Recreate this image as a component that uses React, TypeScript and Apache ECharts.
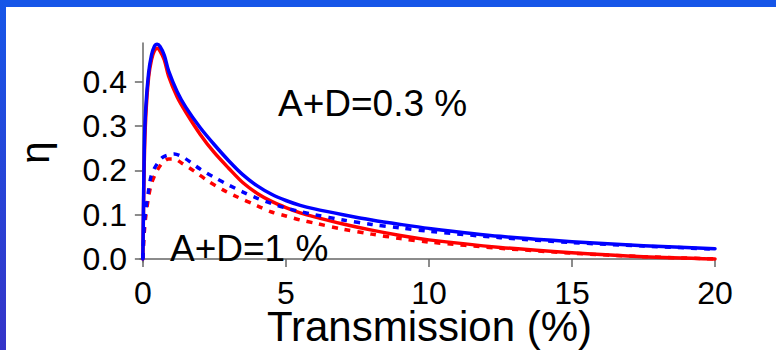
import React, { useEffect, useRef } from "react";
import * as echarts from "echarts";

// Transmission (%) sample positions and efficiency η for each loss level.
const blueSolidX = [0, 0.05, 0.1, 0.2, 0.3, 0.4, 0.5, 0.6, 0.75, 0.9, 1.2, 1.5, 2.0, 2.5, 3.0, 3.5, 4.0, 4.5, 5.0, 5.5, 6, 7, 8, 9, 10, 12.5, 15, 17.5, 20];
const blueSolidY = [0, 0.25, 0.34, 0.42, 0.46, 0.48, 0.485, 0.48, 0.46, 0.425, 0.378, 0.343, 0.297, 0.258, 0.222, 0.19, 0.165, 0.146, 0.132, 0.121, 0.113, 0.1, 0.088, 0.078, 0.069, 0.051, 0.039, 0.03, 0.023];

const redSolidX = [0, 0.05, 0.1, 0.2, 0.3, 0.4, 0.5, 0.6, 0.75, 0.9, 1.2, 1.5, 2.0, 2.5, 3.0, 3.5, 4.0, 4.5, 5.0, 5.5, 6, 7, 8, 9, 10, 12.5, 15, 17.5, 20];
const redSolidY = [0, 0.22, 0.32, 0.41, 0.45, 0.47, 0.476, 0.47, 0.45, 0.413, 0.366, 0.332, 0.282, 0.24, 0.205, 0.172, 0.148, 0.13, 0.116, 0.104, 0.095, 0.079, 0.065, 0.053, 0.043, 0.026, 0.014, 0.005, 0.0];

const blueDashX = [0, 0.05, 0.1, 0.2, 0.3, 0.5, 0.7, 0.9, 1.1, 1.4, 1.7, 2.0, 2.5, 3.0, 3.5, 4.0, 4.5, 5.0, 5.5, 6, 7, 8, 9, 10, 12.5, 15, 17.5, 20];
const blueDashY = [0, 0.08, 0.11, 0.155, 0.19, 0.215, 0.23, 0.235, 0.237, 0.23, 0.217, 0.203, 0.184, 0.167, 0.151, 0.137, 0.125, 0.115, 0.107, 0.1, 0.088, 0.078, 0.07, 0.0625, 0.048, 0.037, 0.029, 0.022];

const redDashX = [0, 0.05, 0.1, 0.2, 0.3, 0.5, 0.7, 0.9, 1.1, 1.35, 1.8, 2.3, 2.8, 3.2, 4.0, 4.5, 5.0, 5.5, 6, 7, 8, 9, 10, 12.5, 15, 17.5, 20];
const redDashY = [0, 0.06, 0.095, 0.14, 0.17, 0.2, 0.218, 0.226, 0.226, 0.217, 0.198, 0.175, 0.156, 0.143, 0.12, 0.106, 0.097, 0.088, 0.081, 0.067, 0.056, 0.046, 0.038, 0.024, 0.013, 0.005, 0.0];

const xTicks = [0, 5, 10, 15, 20];
const yTicks = [0, 0.1, 0.2, 0.3, 0.4];

const FONT = "'Liberation Sans', Arial, sans-serif";
const AXIS_GREY = "#666666";

const pairs = (xs: number[], ys: number[]) => xs.map((x, i) => [x, ys[i]]);

export default function App() {
  const ref = useRef<HTMLDivElement>(null);

  useEffect(() => {
    if (!ref.current) return;
    const chart = echarts.init(ref.current, null, { renderer: "svg" });

    const lineSeries = (name: string, data: number[][], color: string, dashed: boolean) => ({
      name,
      type: "line",
      data,
      showSymbol: false,
      smooth: 0.3,
      lineStyle: {
        color,
        width: 3.5,
        type: dashed ? [6, 7] : "solid",
        cap: dashed ? "butt" : "round",
        join: "round",
      },
      z: 3,
    });

    chart.setOption({
      animation: false,
      backgroundColor: "#ffffff",
      grid: { left: 140, right: 61, top: 43, bottom: 88, containLabel: false, outerBoundsMode: "none" },
      xAxis: {
        type: "value",
        min: -0.1,
        max: 20,
        name: "Transmission (%)",
        nameLocation: "middle",
        nameGap: 46,
        nameMoveOverlap: false,
        nameTextStyle: { fontFamily: FONT, fontSize: 42, lineHeight: 36, color: "#000", padding: [0, 0, 0, 4] },
        axisLine: { show: true, lineStyle: { color: AXIS_GREY, width: 1.5 } },
        axisTick: { show: true, customValues: xTicks, length: 8, lineStyle: { color: AXIS_GREY, width: 1.5 } },
        axisLabel: { customValues: xTicks, fontFamily: FONT, fontSize: 32, lineHeight: 28, color: "#000", margin: 17 },
        splitLine: { show: false },
      },
      yAxis: {
        type: "value",
        min: -0.007,
        max: 0.488,
        name: "η",
        nameLocation: "middle",
        nameGap: 85,
        nameMoveOverlap: false,
        nameTextStyle: { fontFamily: FONT, fontSize: 40, color: "#000" },
        axisLine: { show: true, lineStyle: { color: AXIS_GREY, width: 1.5 } },
        axisTick: { show: true, customValues: yTicks, length: 8, lineStyle: { color: AXIS_GREY, width: 1.5 } },
        axisLabel: {
          customValues: yTicks,
          fontFamily: FONT,
          fontSize: 32,
          color: "#000",
          margin: 13,
          formatter: (v: number) => v.toFixed(1),
        },
        splitLine: { show: false },
      },
      series: [
        lineSeries("A+D=0.3 % (red)", pairs(redSolidX, redSolidY), "#ff0000", false),
        lineSeries("A+D=1 % (red)", pairs(redDashX, redDashY), "#ff0000", true),
        lineSeries("A+D=0.3 % (blue)", pairs(blueSolidX, blueSolidY), "#0000ff", false),
        lineSeries("A+D=1 % (blue)", pairs(blueDashX, blueDashY), "#0000ff", true),
      ],
      graphic: [
        { type: "rect", left: 0, top: 0, shape: { width: 776, height: 7 }, style: { fill: "#1656e8" }, z: 10 },
        {
          type: "rect",
          left: 0,
          top: 0,
          shape: { width: 6, height: 350 },
          style: {
            fill: new echarts.graphic.LinearGradient(0, 0, 0, 1, [
              { offset: 0, color: "#1656e8" },
              { offset: 1, color: "#3534c8" },
            ]),
          },
          z: 10,
        },
        {
          type: "text",
          left: 278,
          top: 85,
          style: { text: "A+D=0.3 %", font: `37px ${FONT}`, fill: "#000" },
          z: 5,
        },
        {
          type: "text",
          left: 170,
          top: 230,
          style: { text: "A+D=1 %", font: `37px ${FONT}`, fill: "#000" },
          z: 5,
        },
      ],
    });

    return () => chart.dispose();
  }, []);

  return (
    <div
      ref={ref}
      style={{ position: "fixed", left: 0, top: 0, width: 776, height: 350 }}
    />
  );
}
